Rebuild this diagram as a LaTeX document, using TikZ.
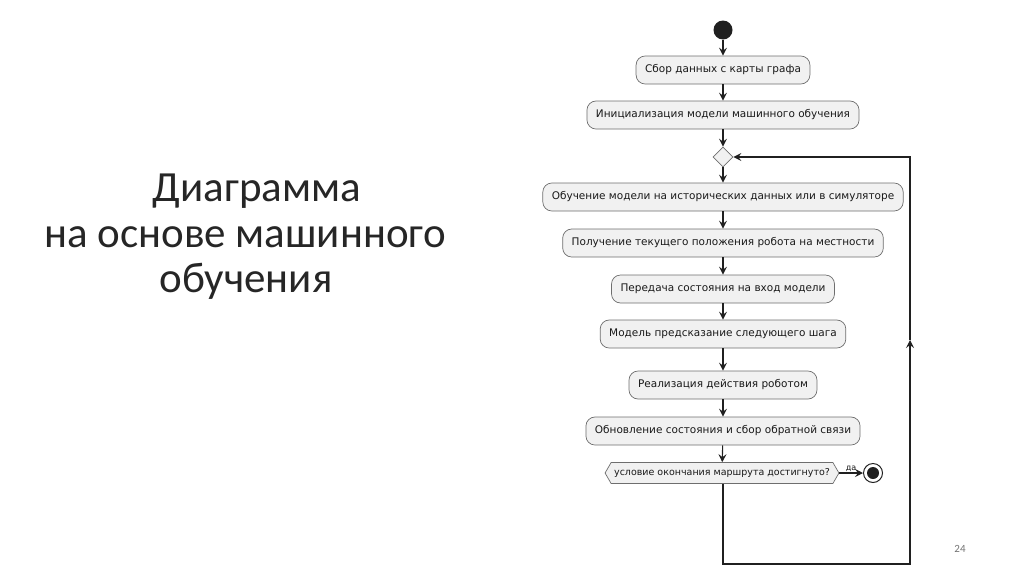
\documentclass[tikz,border=0pt]{standalone}
\usepackage{fontspec}
\setmainfont{Carlito}
\newfontfamily\umlfont{DejaVu Sans}
\usetikzlibrary{arrows.meta,shapes.geometric,shapes.misc,shapes.symbols}
\definecolor{boxfill}{HTML}{F1F1F1}
\definecolor{boxline}{HTML}{6E6E6E}
\definecolor{lineclr}{HTML}{202020}
\tikzset{
  act/.style={draw=boxline, fill=boxfill, line width=0.7pt, rounded corners=9pt,
    minimum height=28pt, inner xsep=9pt, font=\umlfont\fontsize{10.5}{12}\selectfont, text=black!90},
  flow/.style={draw=lineclr, line width=1.1pt, -{Stealth[length=8pt,width=8pt,inset=3pt]}},
  title/.style={font=\fontsize{43}{50}\selectfont, text=black!85, anchor=base}
}
\begin{document}
\begin{tikzpicture}[x=1pt,y=-1pt]
\useasboundingbox (0,0) rectangle (1024,574);
% title
\node[title] (t1) at (257,201) {Диаграмма};
\node[title] (t2) at (245,247) {на основе машинного};
\node[title] (t3) at (246,292) {обучения};
\node[font=\fontsize{11}{13}\selectfont, text=black!55] (pg) at (960,549) {24};
% diagram
\node[circle, fill=lineclr, minimum size=19pt, inner sep=0pt] (start) at (723,30) {};
\node[act] (b1) at (723,70) {Сбор данных с карты графа};
\node[act] (b2) at (723,115) {Инициализация модели машинного обучения};
\node[diamond, draw=boxline, fill=boxfill, line width=0.7pt, minimum width=20pt, minimum height=20pt, inner sep=0pt] (dia) at (723,157) {};
\node[act] (b3) at (723,197) {Обучение модели на исторических данных или в симуляторе};
\node[act] (b4) at (723,243) {Получение текущего положения робота на местности};
\node[act] (b5) at (723,289) {Передача состояния на вход модели};
\node[act] (b6) at (723,334) {Модель предсказание следующего шага};
\node[act] (b7) at (723,385) {Реализация действия роботом};
\node[act] (b8) at (723,431) {Обновление состояния и сбор обратной связи};
\node[act, signal, signal to=west and east, signal pointer angle=120, rounded corners=0pt, minimum height=21pt, inner xsep=3pt, font=\umlfont\fontsize{9.5}{11}\selectfont] (hex) at (722,473) {условие окончания маршрута достигнуто?};
\node[circle, draw=lineclr, fill=white, line width=1pt, minimum size=19pt, inner sep=0pt] (stop) at (873,473) {};
\node[circle, fill=lineclr, minimum size=12pt, inner sep=0pt] (stopin) at (873,473) {};
\coordinate (c1) at (723,564);
\coordinate (c2) at (910,564);
\coordinate (m) at (910,340);
\coordinate (c3) at (910,157);
\draw[flow] (start) -- (b1);
\draw[flow] (b1) -- (b2);
\draw[flow] (b2) -- (dia);
\draw[flow] (dia) -- (b3);
\draw[flow] (b3) -- (b4);
\draw[flow] (b4) -- (b5);
\draw[flow] (b5) -- (b6);
\draw[flow] (b6) -- (b7);
\draw[flow] (b7) -- (b8);
\draw[flow] (b8) -- (hex);
\draw[flow] (hex.east) -- node[above, font=\umlfont\fontsize{8}{9}\selectfont, text=black!90, inner sep=0.5pt] (yes) {да} (stop);
\draw[flow] (hex.south -| c1) -- (c1) -- (c2) -- (m);
\draw[flow] (m) -- (c3) -- (dia.east);
\end{tikzpicture}
\end{document}
